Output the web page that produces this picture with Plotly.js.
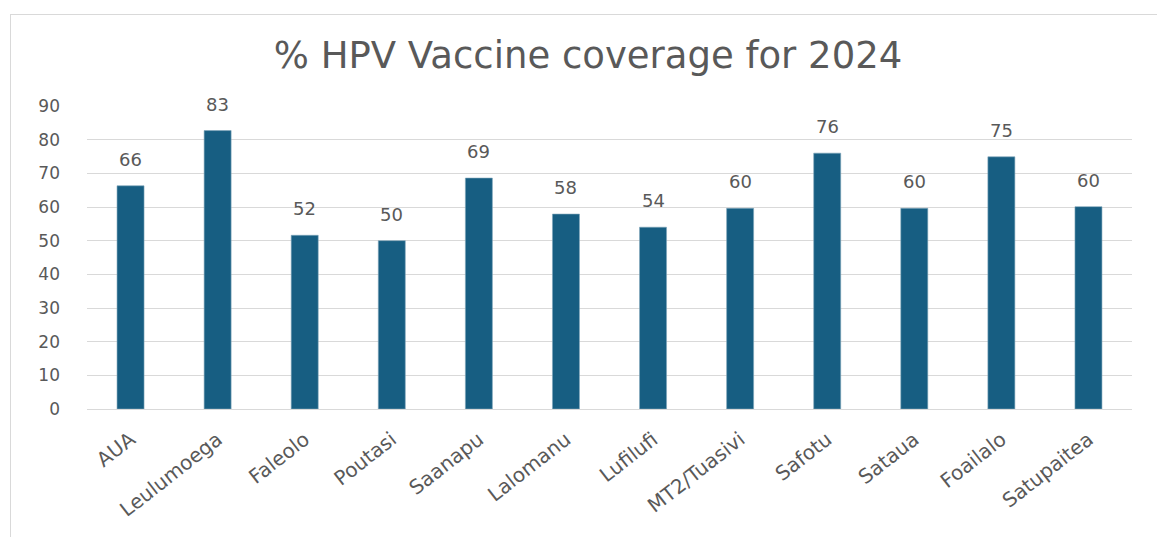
<!DOCTYPE html>
<html>
<head>
<meta charset="utf-8">
<script src="https://cdn.plot.ly/plotly-3.0.1.min.js"></script>
<style>
  html, body { margin: 0; padding: 0; background: #fff; }
  #wrap { position: relative; width: 1157px; height: 537px; overflow: hidden; }
  #chart { position: absolute; left: 0; top: 0; width: 1157px; height: 537px; }
  #frame { position: absolute; left: 10px; top: 14px; width: 1200px; height: 600px;
           border-top: 1px solid #d9d9d9; border-left: 1px solid #d9d9d9; pointer-events: none; }
</style>
</head>
<body>
<div id="wrap">
  <div id="chart"></div>
  <div id="frame"></div>
</div>
<script>
const categories = ["AUA", "Leulumoega", "Faleolo", "Poutasi", "Saanapu", "Lalomanu",
                    "Lufilufi", "MT2/Tuasivi", "Safotu", "Sataua", "Foailalo", "Satupaitea"];
const coverage = [66.3, 82.7, 51.6, 50.0, 68.6, 57.9, 54.0, 59.6, 76.0, 59.6, 74.9, 60.1];
const yTicks = [0, 10, 20, 30, 40, 50, 60, 70, 80, 90];
const chartTitle = "% HPV Vaccine coverage for 2024";

const textColor = "#595959";
const fontFam = "DejaVu Sans, Liberation Sans, Arial, sans-serif";

const trace = {
  type: "bar",
  x: categories,
  y: coverage,
  marker: { color: "#175E82", line: { color: "#7fa6bb", width: 0.6 } },
  hoverinfo: "x+y"
};

const annotations = categories.map((c, i) => ({
  x: c, y: coverage[i], xref: "x", yref: "y",
  text: String(Math.round(coverage[i])),
  showarrow: false, yanchor: "bottom", yshift: 14,
  font: { family: fontFam, size: 18, color: textColor }
}));

const layout = {
  width: 1157, height: 537,
  paper_bgcolor: "rgba(0,0,0,0)", plot_bgcolor: "#fff",
  margin: { l: 87, r: 25, t: 106, b: 128, pad: 0 },
  title: {
    text: chartTitle, xref: "container", x: 588 / 1157, xanchor: "center",
    yref: "container", y: 1 - 55 / 537, yanchor: "middle",
    font: { family: fontFam, size: 37, color: textColor }
  },
  bargap: 0.69,
  showlegend: false,
  xaxis: {
    type: "category", tickangle: -38, showgrid: false, zeroline: false,
    showline: true, linecolor: "#d9d9d9", linewidth: 1, ticks: "",
    ticklabelstandoff: 10,
    tickfont: { family: fontFam, size: 20, color: textColor }
  },
  yaxis: {
    range: [0, 90], tickvals: yTicks, ticktext: yTicks.map(String),
    showgrid: true, gridcolor: "#d9d9d9", gridwidth: 1, zeroline: false,
    showline: false, ticks: "", ticklen: 0, automargin: false,
    ticklabelstandoff: 26,
    tickfont: { family: fontFam, size: 17, color: textColor }
  },
  annotations: annotations
};

Plotly.newPlot("chart", [trace], layout, { displayModeBar: false, staticPlot: true });
</script>
</body>
</html>
